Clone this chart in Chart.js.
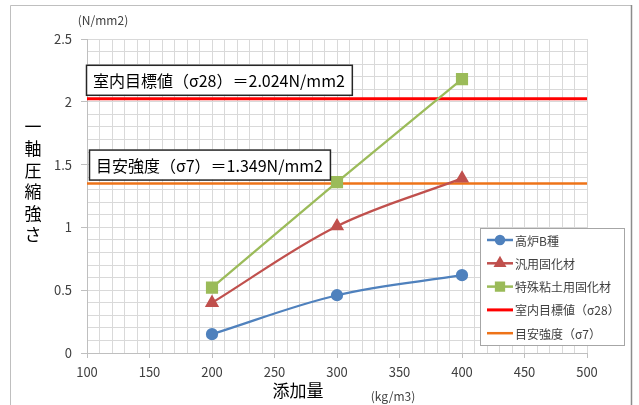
<!DOCTYPE html>
<html lang="ja">
<head>
<meta charset="utf-8">
<title>一軸圧縮強さ</title>
<script src="https://cdn.jsdelivr.net/npm/chart.js@4/dist/chart.umd.min.js"></script>
<style>
  html, body { margin: 0; padding: 0; background: #ffffff; }
  #wrap { width: 639px; height: 405px; position: relative; }
</style>
</head>
<body>
<div id="wrap"><canvas id="c" width="639" height="405"></canvas></div>
<script>
// 添加量 (kg/m3)
const additionRates = [200, 300, 400];
// 一軸圧縮強さ (N/mm2)
const blastFurnaceB = [0.15, 0.46, 0.62];
const generalSolidifier = [0.40, 1.01, 1.39];
const specialClaySolidifier = [0.52, 1.36, 2.18];
// 基準値
const targetStrength28 = 2.024;
const guideStrength7 = 1.349;
const xRange = [100, 500];
const yRange = [0, 2.5];
const seriesNames = ['高炉B種', '汎用固化材', '特殊粘土用固化材', '室内目標値（σ28）', '目安強度（σ7）'];
const seriesColors = ['#4f81bd', '#c0504d', '#9bbb59', '#ff0000', '#ee7318'];
const yTitleChars = ['一', '軸', '圧', '縮', '強', 'さ'];

const FONT = '"Noto Sans CJK JP", "Noto Sans", sans-serif';

const toPoints = vals => additionRates.map((x, i) => ({ x, y: vals[i] }));
const flatLine = v => xRange.map(x => ({ x, y: v }));

const isMajor = (v, step) => Math.abs(v / step - Math.round(v / step)) < 1e-6;

// 枠・注記・凡例・軸タイトル
const decorations = {
  id: 'decorations',
  beforeDraw(chart) {
    const ctx = chart.ctx;
    ctx.save();
    ctx.fillStyle = '#ffffff';
    ctx.fillRect(0, 0, chart.width, chart.height);
    ctx.strokeStyle = '#bfbfbf';
    ctx.lineWidth = 1;
    ctx.beginPath();
    ctx.moveTo(10.5, 405);
    ctx.lineTo(10.5, 5.5);
    ctx.lineTo(631.5, 5.5);
    ctx.stroke();
    ctx.strokeStyle = '#8c8c8c';
    ctx.lineWidth = 1.5;
    ctx.beginPath();
    ctx.moveTo(631.5, 5);
    ctx.lineTo(631.5, 405);
    ctx.stroke();
    ctx.restore();
  },
  afterDraw(chart) {
    const ctx = chart.ctx;
    const area = chart.chartArea;
    const ys = chart.scales.y;
    ctx.save();

    // 注記ボックス
    const boxes = [
      { text: '室内目標値（σ28）＝' + targetStrength28.toFixed(3) + 'N/mm2', value: targetStrength28, left: area.left - 1 },
      { text: '目安強度（σ7）＝' + guideStrength7.toFixed(3) + 'N/mm2', value: guideStrength7, left: area.left + 2 }
    ];
    ctx.font = '16px ' + FONT;
    ctx.textBaseline = 'middle';
    ctx.textAlign = 'left';
    boxes.forEach(b => {
      const w = ctx.measureText(b.text).width + 14;
      const h = 30;
      const bottom = ys.getPixelForValue(b.value) - 4;
      const top = bottom - h;
      ctx.fillStyle = '#ffffff';
      ctx.fillRect(b.left, top, w, h);
      ctx.strokeStyle = '#262626';
      ctx.lineWidth = 1.5;
      ctx.strokeRect(b.left + 0.5, top + 0.5, w, h);
      ctx.fillStyle = '#000000';
      ctx.fillText(b.text, b.left + 7, top + h / 2 + 1);
    });

    // 凡例
    const lx = 480, ly = 228, lw = 144, lh = 117;
    ctx.fillStyle = '#ffffff';
    ctx.fillRect(lx, ly, lw, lh);
    ctx.strokeStyle = '#a6a6a6';
    ctx.lineWidth = 1;
    ctx.strokeRect(lx + 0.5, ly + 0.5, lw, lh);
    ctx.font = '12px ' + FONT;
    chart.data.datasets.forEach((ds, i) => {
      const cy = ly + 12 + i * 23.3;
      ctx.strokeStyle = ds.borderColor;
      ctx.lineWidth = ds.legendLineWidth || 2.5;
      ctx.beginPath();
      ctx.moveTo(lx + 7, cy);
      ctx.lineTo(lx + 33, cy);
      ctx.stroke();
      if (ds.pointRadius > 0) {
        Chart.helpers.drawPoint(ctx, {
          pointStyle: ds.pointStyle,
          radius: ds.legendPointRadius,
          rotation: 0,
          borderWidth: 1
        }, lx + 20, cy);
        ctx.fillStyle = ds.backgroundColor;
        ctx.fill();
      }
      ctx.fillStyle = '#404040';
      ctx.textAlign = 'left';
      ctx.textBaseline = 'middle';
      ctx.fillText(ds.label, lx + 35, cy + 1);
    });

    // 軸タイトル・単位
    ctx.fillStyle = '#000000';
    ctx.textAlign = 'center';
    ctx.textBaseline = 'middle';
    ctx.font = '17px ' + FONT;
    yTitleChars.forEach((ch, i) => ctx.fillText(ch, 33, 127 + i * 21.6));
    ctx.fillText('添加量', 298, 391);
    ctx.fillStyle = '#404040';
    ctx.font = '12px ' + FONT;
    ctx.fillText('(kg/m3)', 393, 396);
    ctx.fillText('(N/mm2)', 103, 20);
    ctx.restore();
  }
};

const gridColor = '#d9d9d9';

new Chart(document.getElementById('c'), {
  type: 'line',
  data: {
    datasets: [
      {
        label: seriesNames[0], data: toPoints(blastFurnaceB),
        borderColor: seriesColors[0], backgroundColor: seriesColors[0],
        borderWidth: 2.25, pointStyle: 'circle', pointRadius: 5, legendPointRadius: 4,
        tension: 0.35
      },
      {
        label: seriesNames[1], data: toPoints(generalSolidifier),
        borderColor: seriesColors[1], backgroundColor: seriesColors[1],
        borderWidth: 2.25, pointStyle: 'triangle', pointRadius: 6, legendPointRadius: 5,
        tension: 0.35
      },
      {
        label: seriesNames[2], data: toPoints(specialClaySolidifier),
        borderColor: seriesColors[2], backgroundColor: seriesColors[2],
        borderWidth: 2.25, pointStyle: 'rect', pointRadius: 7, legendPointRadius: 5.5,
        tension: 0.35
      },
      {
        label: seriesNames[3], data: flatLine(targetStrength28),
        borderColor: seriesColors[3], backgroundColor: seriesColors[3],
        borderWidth: 3, pointRadius: 0, legendLineWidth: 3
      },
      {
        label: seriesNames[4], data: flatLine(guideStrength7),
        borderColor: seriesColors[4], backgroundColor: seriesColors[4],
        borderWidth: 2.5, pointRadius: 0, legendLineWidth: 2.5
      }
    ]
  },
  options: {
    responsive: false,
    animation: false,
    layout: { padding: { left: 0, top: 39, right: 52, bottom: 0 } },
    plugins: {
      legend: { display: false },
      tooltip: { enabled: false }
    },
    elements: { point: { borderWidth: 1 } },
    scales: {
      x: {
        type: 'linear',
        min: xRange[0], max: xRange[1],
        afterFit: s => { s.height = 52; },
        border: { color: '#bfbfbf', width: 1 },
        grid: {
          color: gridColor,
          lineWidth: 1,
          tickLength: 5,
          tickColor: ctx => (ctx.tick && isMajor(ctx.tick.value, 50)) ? '#bfbfbf' : 'rgba(0,0,0,0)'
        },
        ticks: {
          stepSize: 10,
          autoSkip: false,
          maxRotation: 0,
          padding: 6,
          color: '#404040',
          font: { family: FONT, size: 13 },
          callback: v => isMajor(v, 50) ? String(Math.round(v)) : ''
        }
      },
      y: {
        type: 'linear',
        min: yRange[0], max: yRange[1],
        afterFit: s => { s.width = 87; },
        border: { color: '#bfbfbf', width: 1 },
        grid: {
          color: gridColor,
          lineWidth: 1,
          tickLength: 6,
          tickColor: ctx => (ctx.tick && isMajor(ctx.tick.value, 0.5)) ? '#bfbfbf' : 'rgba(0,0,0,0)'
        },
        ticks: {
          stepSize: 0.1,
          autoSkip: false,
          padding: 9,
          color: '#404040',
          font: { family: FONT, size: 13 },
          callback: v => isMajor(v, 0.5) ? String(Math.round(v * 10) / 10) : ''
        }
      }
    }
  },
  plugins: [decorations]
});
</script>
</body>
</html>
